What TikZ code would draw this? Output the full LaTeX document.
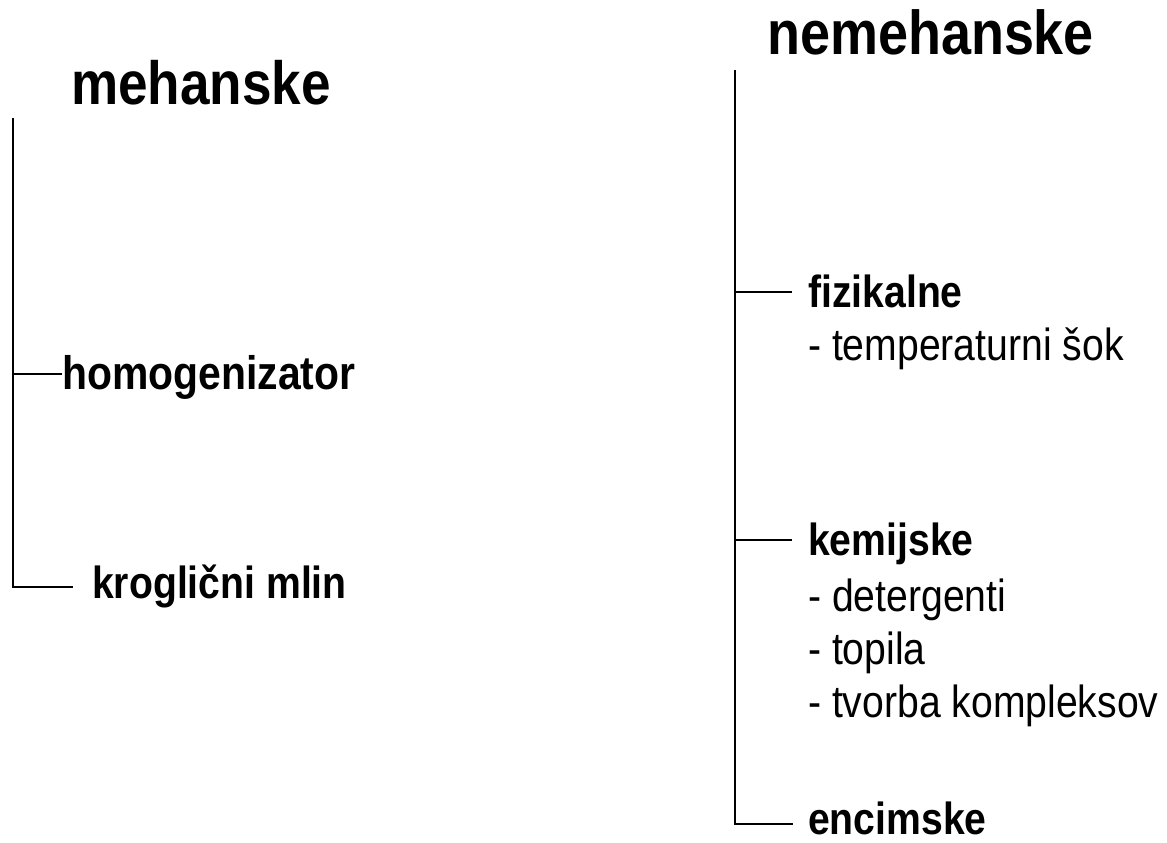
\documentclass[tikz,border=0pt]{standalone}
\usepackage{fontspec}
\setmainfont[FakeStretch=0.87]{Liberation Sans}
\begin{document}
\begin{tikzpicture}[x=1pt,y=-1pt,
  title/.style={anchor=base west,inner sep=0pt,font=\fontsize{61}{70}\selectfont\bfseries},
  head/.style={anchor=base west,inner sep=0pt,font=\fontsize{45}{52}\selectfont\bfseries},
  item/.style={anchor=base west,inner sep=0pt,font=\fontsize{45}{52}\selectfont},
  conn/.style={line width=2.4pt}]
\useasboundingbox (0,0) rectangle (1167,843);
% left tree
\node[title] (meh) at (71,104) {mehanske};
\coordinate (lt) at (13,118);
\coordinate (lb) at (13,587);
\node[head,font=\fontsize{47}{54}\selectfont\bfseries] (hom) at (62,389) {homogenizator};
\node[head] (krog) at (92,598) {kroglični mlin};
\draw[conn] (lt) -- (lb);
\draw[conn] (lt |- 0,374) -- (hom.west |- 0,374);
\draw[conn,line cap=rect] (lb) -- ([xshift=-20pt]krog.west |- lb);
% right tree
\node[title,font=\fontsize{62}{70}\selectfont\bfseries] (nemeh) at (767,55) {nemehanske};
\coordinate (rt) at (735,70);
\coordinate (rb) at (735,824);
\node[head] (fiz) at (808,307) {fizikalne};
\node[item] (temp) at (808,360) {- temperaturni šok};
\node[head] (kem) at (808,555) {kemijske};
\node[item] (det) at (808,611) {- detergenti};
\node[item] (top) at (808,664) {- topila};
\node[item] (tvor) at (808,717) {- tvorba kompleksov};
\node[head] (enc) at (808,834) {encimske};
\draw[conn] (rt) -- (rb);
\draw[conn] (rt |- 0,292) -- ([xshift=-16pt]fiz.west |- 0,292);
\draw[conn] (rt |- 0,540) -- ([xshift=-16pt]kem.west |- 0,540);
\draw[conn,line cap=rect] (rb) -- ([xshift=-16pt]enc.west |- rb);
\end{tikzpicture}
\end{document}
